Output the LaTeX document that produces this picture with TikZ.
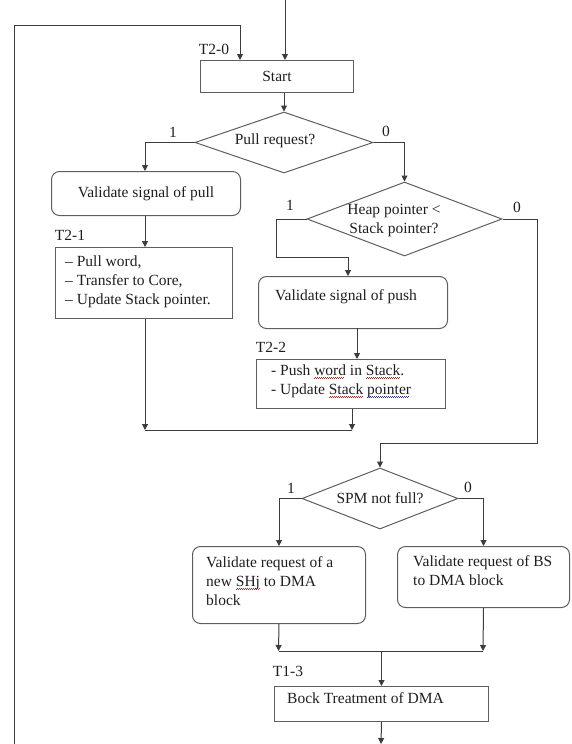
\documentclass[tikz,border=0pt]{standalone}
\usepackage{fontspec}
\setmainfont{Liberation Serif}
\usetikzlibrary{arrows.meta,shapes.geometric}
\definecolor{boxgray}{HTML}{5E5E5E}
\definecolor{wiregray}{HTML}{3C3C3C}
\definecolor{inkgray}{HTML}{1E1E1E}
\definecolor{spellred}{HTML}{D02020}
\definecolor{grammarblue}{HTML}{3030B0}
% wavy proofing underlines built from alternating small rules
\newcommand\proofwave[2]{\setbox0\hbox{#2}\rlap{\textcolor{#1}{\hbox to \wd0{\leaders\hbox{\rule[-3.4pt]{1pt}{0.7pt}\rule[-2.6pt]{1pt}{0.7pt}}\hfill}}}\box0\relax}
\newcommand\spellwave[1]{\proofwave{spellred}{#1}}
\newcommand\grammarwave[1]{\proofwave{grammarblue}{#1}}
\begin{document}
\begin{tikzpicture}[x=1pt,y=-1pt,
  font=\fontsize{15.5}{19}\selectfont, text=inkgray,
  box/.style={draw=boxgray, line width=1pt, rectangle, inner sep=0pt, anchor=north west},
  rbox/.style={box, rounded corners=8pt},
  dia/.style={draw=boxgray, line width=1pt, diamond, inner sep=0pt},
  txt/.style={inner sep=0pt, anchor=west, align=left},
  lbl/.style={inner sep=0pt},
  wire/.style={draw=wiregray, line width=1pt},
  arr/.style={wire, -{Triangle[length=6pt,width=6pt]}}]
\useasboundingbox (0,0) rectangle (572,744);

% ---------- stack side (T2) ----------
\node[box, minimum width=153pt, minimum height=32pt] (start) at (200,60) {Start};
\node[lbl] (l20) at (214,49) {T2-0};

\node[dia, minimum width=178pt, minimum height=61pt] (pull) at (284,142.5) {};
\node[lbl] (pulltxt) at (275,141) {Pull request?};
\node[lbl] (p1) at (173,132) {1};
\node[lbl] (p0) at (386,131) {0};

\node[rbox, minimum width=189pt, minimum height=44pt] (vpull) at (51,171) {Validate signal of pull};

\node[box, minimum width=177pt, minimum height=71pt] (t21) at (55,247) {};
\node[txt] (t21txt) at (65,281.5) {– Pull word,\\– Transfer to Core,\\– Update Stack pointer.};
\node[lbl] (l21) at (70,235) {T2-1};

\node[dia, minimum width=195pt, minimum height=74pt] (heap) at (404.5,219) {};
\node[lbl, align=center] (heaptxt) at (394,221) {Heap pointer <\\Stack pointer?};
\node[lbl] (h1l) at (290,205) {1};
\node[lbl] (h0l) at (517,207) {0};

\node[rbox, minimum width=189pt, minimum height=52pt] (push) at (258,276) {};
\node[txt] (pushtxt) at (275,297) {Validate signal of push};

\node[box, minimum width=189pt, minimum height=49pt] (t22) at (256,359) {};
\node[txt] (t22txt) at (271,381) {- Push \spellwave{word} in \spellwave{Stack}.\\- Update \spellwave{Stack} \grammarwave{pointer}};
\node[lbl] (l22) at (271,347) {T2-2};

% ---------- DMA side (T1) ----------
\node[dia, minimum width=156pt, minimum height=61pt] (spm) at (380,498.5) {};
\node[lbl] (spmtxt) at (380,498) {SPM not full?};
\node[lbl] (s1) at (291,488) {1};
\node[lbl] (s0) at (468,487) {0};

\node[rbox, minimum width=173pt, minimum height=77pt] (reql) at (192,546) {};
\node[txt] (reqltxt) at (206,581) {Validate request of a\\new \spellwave{SHj} to DMA\\block};

\node[rbox, minimum width=172pt, minimum height=61pt] (reqr) at (397,546) {};
\node[txt] (reqrtxt) at (413,571) {Validate request of BS\\to DMA block};

\node[box, minimum width=214pt, minimum height=35pt] (bock) at (274,686) {};
\node[txt] (bocktxt) at (287,698) {Bock Treatment of DMA};
\node[lbl] (l13) at (288,671) {T1-3};

% ---------- connectors ----------
\coordinate (entry) at (285,0);
\coordinate (loopbot) at (14,744);
\coordinate (loopturn) at (240,25);
\coordinate (j1) at (145,430);
\coordinate (j2) at (352,430);
\coordinate (hl) at (276,257);
\coordinate (hr) at (348,257);
\coordinate (hd) at (537,443);
\coordinate (pushout) at (357,328);
\coordinate (exit) at (381,744);

\draw[arr] (entry) -- (entry |- start.north);
\draw[arr] (loopbot) |- (loopturn) -- (loopturn |- start.north);
\draw[arr] (pull.north |- start.south) -- (pull.north);

\draw[arr] (pull.west) -| (vpull.north -| j1);
\draw[arr] (j1 |- vpull.south) -- (j1 |- t21.north);
\draw[arr] (j1 |- t21.south) -- (j1);

\draw[arr] (pull.east) -| (heap.north);
\draw[arr] (heap.west) -| (hl) -- (hr) -- (hr |- push.north);
\draw[arr] (pushout) -- (pushout |- t22.north);
\draw[arr] (j2 |- t22.south) -- (j2);
\draw[wire] (j1) -- (j2);

\draw[arr] (heap.east) -| (hd) -| (spm.north);
\draw[arr] (spm.west) -| (reql.north);
\draw[arr] (spm.east) -| (reqr.north);

\coordinate (j3) at (278.5,651);
\coordinate (j4) at (483,651);
\draw[arr] (reql.south) -- (j3);
\draw[arr] (reqr.south) -- (j4);
\draw[wire] (j3) -- (j4);
\draw[arr] (bock.north |- j3) -- (bock.north);
\draw[arr] (bock.south) -- (exit);
\end{tikzpicture}
\end{document}
